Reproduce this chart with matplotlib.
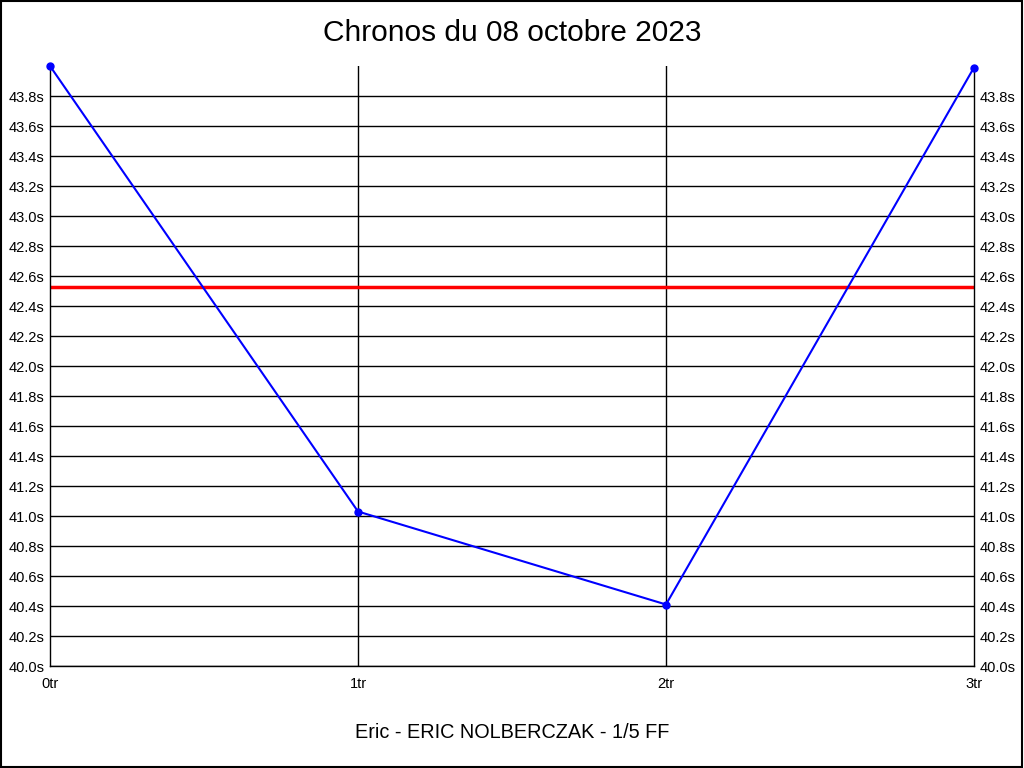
import matplotlib
matplotlib.use("Agg")
import matplotlib.pyplot as plt
import numpy as np

# -----------------------------
# DATA
# -----------------------------
laps = [0, 1, 2, 3]
lap_labels = ["0tr", "1tr", "2tr", "3tr"]
times = [44.00, 41.03, 40.41, 43.99]
reference_time = 42.53
y_ticks = np.round(np.arange(40.0, 43.81, 0.2), 1)

title = "Chronos du 08 octobre 2023"
footer = "Eric - ERIC NOLBERCZAK - 1/5 FF"

plt.rcParams['font.family'] = ['Liberation Sans', 'DejaVu Sans']

fig = plt.figure(figsize=(10.24, 7.68), dpi=100)
W, H = 1024, 768
ax = fig.add_axes([50 / W, (H - 666) / H, 924 / W, 600 / H])

# grid
for y in y_ticks:
    ax.axhline(y, color="black", lw=1, zorder=1)
for x in laps[1:-1]:
    ax.axvline(x, color="black", lw=1, zorder=1)

ax.axhline(reference_time, color="#ff0000", lw=2.5, zorder=2)
ax.plot(laps, times, color="#0000ff", lw=1.5, marker="o", ms=5, zorder=3,
        clip_on=False)

ax.set_xlim(0, 3)
ax.set_ylim(40.0, 44.0)
ax.set_xticks(laps)
ax.set_xticklabels(lap_labels)
ax.set_yticks(y_ticks)
ax.set_yticklabels([f"{v:.1f}s" for v in y_ticks])
ax.tick_params(axis="both", length=0, labelsize=10.5, pad=4)
ax.tick_params(axis="x", pad=8)
ax.tick_params(axis="y", labelright=True, right=False)
ax.spines["top"].set_visible(False)
for s in ["left", "right", "bottom"]:
    ax.spines[s].set_linewidth(1)

fig.text(0.5, (H - 33) / H, title, ha="center", va="center", fontsize=21.5)
fig.text(0.5, (H - 732) / H, footer, ha="center", va="center", fontsize=14.3)

# outer border
fig.patches.append(plt.Rectangle((0.0005, 0.0007), 0.998, 0.998,
                                 transform=fig.transFigure, fill=False,
                                 edgecolor="black", lw=1.5))

fig.savefig("out.png", dpi=100)
